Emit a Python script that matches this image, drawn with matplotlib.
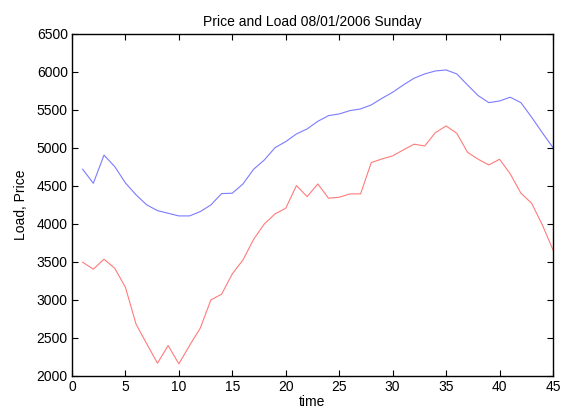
import matplotlib
matplotlib.use('Agg')
import matplotlib.pyplot as plt

# hourly values
time = list(range(1, 46))
load = [4720, 4535, 4905, 4755, 4540, 4382, 4250, 4175, 4140, 4105,
        4105, 4162, 4250, 4399, 4404, 4526, 4720, 4842, 5004, 5083,
        5184, 5250, 5350, 5425, 5447, 5491, 5513, 5566, 5653, 5732,
        5829, 5917, 5974, 6013, 6026, 5974, 5829, 5688, 5596, 5618,
        5667, 5596, 5404, 5200, 5004]
price = [3496, 3404, 3535, 3417, 3167, 2680, 2421, 2167, 2399, 2158,
         2399, 2627, 3000, 3075, 3342, 3526, 3798, 4000, 4132, 4206,
         4504, 4359, 4526, 4338, 4351, 4395, 4395, 4807, 4855, 4895,
         4974, 5049, 5026, 5202, 5289, 5193, 4943, 4851, 4776, 4851,
         4658, 4404, 4272, 3987, 3658]

plt.rcParams['font.family'] = ['Liberation Sans', 'DejaVu Sans']
plt.rcParams['font.size'] = 10

fig = plt.figure(figsize=(5.62, 4.09), dpi=100)
ax = fig.add_axes([0.128, 0.081, 0.856, 0.836])

ax.plot(time, load, color='#7b7bff', linewidth=0.8)
ax.plot(time, price, color='#ff7b7b', linewidth=0.8)

ax.set_xlim(0, 45)
ax.set_ylim(2000, 6500)
ax.set_xticks(range(0, 46, 5))
ax.set_yticks(range(2000, 6501, 500))
ax.tick_params(direction='in', top=True, right=True, length=4, width=0.8, pad=3)
for s in ax.spines.values():
    s.set_linewidth(1.0)

ax.set_title('Price and Load 08/01/2006 Sunday', fontsize=10, pad=6)
ax.set_xlabel('time', labelpad=0.5)
ax.set_ylabel('Load, Price', labelpad=6)

fig.savefig('out.png', dpi=100)
